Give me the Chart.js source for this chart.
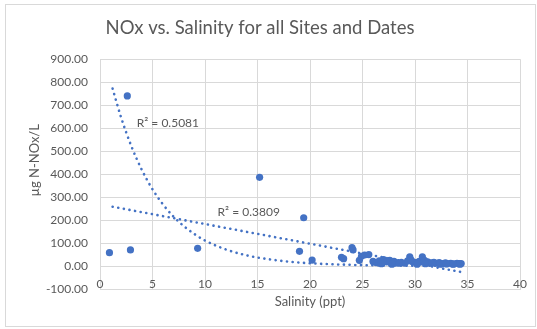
<!DOCTYPE html>
<html>
<head>
<meta charset="utf-8">
<script src="https://cdn.jsdelivr.net/npm/chart.js@4/dist/chart.umd.min.js"></script>
<style>
  body { margin: 0; background: #fff; }
</style>
</head>
<body>
<canvas id="chart" width="537" height="329"></canvas>
<script>
// Salinity (ppt) and NOx (µg N-NOx/L) samples
const salinity = [0.9, 2.6, 2.9, 9.3, 15.2, 19.4, 19.0, 20.2, 23.0, 23.2, 24.0, 24.1,
  24.7, 24.9, 25.2, 25.6, 26.0, 26.3, 26.6, 27.0, 27.3, 27.6, 28.0, 28.3, 28.7, 29.0,
  29.3, 29.5, 29.8, 30.1, 30.4, 30.7, 30.9, 31.2, 31.5, 31.8, 32.0, 32.3, 32.6, 32.9,
  33.1, 33.4, 33.7, 34.0, 34.2, 34.4, 26.8, 27.8, 28.5, 29.6, 30.2, 31.0, 31.6, 32.4,
  33.0, 33.6, 34.3];
const nox = [58, 740, 70, 77, 386, 210, 64, 26, 38, 32, 80, 70,
  25, 42, 48, 50, 20, 15, 22, 28, 18, 25, 20, 14, 16, 12,
  22, 40, 18, 15, 20, 40, 25, 18, 14, 16, 12, 15, 10, 14,
  11, 12, 9, 12, 10, 11, 10, 8, 12, 28, 8, 10, 12, 8,
  9, 8, 8];

// linear trendline end points
const linX = [1.2, 34.5];
const linY = [258, -27];

// exponential trendline, sampled along its length
const expX = [1.2, 2, 3, 4, 5, 6, 7, 8, 9, 10, 12, 14, 16, 18, 20, 24, 28, 34.5];
const expY = [772, 648, 520, 417, 334, 268, 215, 173, 139, 111, 72, 46, 30, 19, 12, 5, 2, 0.5];

// R² labels: text and data-space anchor (left edge, middle)
const r2Text = ['R\u00b2 = 0.5081', 'R\u00b2 = 0.3809'];
const r2X = [3.5, 11.2];
const r2Y = [620, 233];

const blue = '#4472C4';
const grey = '#595959';
const gridColor = '#d9d9d9';

Chart.defaults.font.family = 'Lato';
Chart.defaults.color = grey;

const toPoints = (xs, ys) => xs.map((x, i) => ({ x: x, y: ys[i] }));

// frame, x tick labels, y title and R² text
const extras = {
  id: 'extras',
  beforeDraw(chart) {
    const ctx = chart.ctx;
    ctx.save();
    ctx.strokeStyle = gridColor;
    ctx.lineWidth = 1;
    ctx.strokeRect(5.5, 4.5, 530, 322);
    ctx.restore();
  },
  afterDraw(chart) {
    const ctx = chart.ctx;
    const xs = chart.scales.x;
    const ys = chart.scales.y;
    ctx.save();
    ctx.fillStyle = grey;
    ctx.textBaseline = 'middle';

    // x tick labels sit just above the bottom gridline
    ctx.font = '12px Lato';
    ctx.textAlign = 'center';
    xs.ticks.forEach((t) => {
      ctx.fillText(String(t.value), xs.getPixelForValue(t.value), chart.chartArea.bottom - 5);
    });

    ctx.textAlign = 'left';
    for (let i = 0; i < r2Text.length; i++) {
      ctx.fillText(r2Text[i], xs.getPixelForValue(r2X[i]), ys.getPixelForValue(r2Y[i]));
    }

    // vertical axis title
    ctx.font = '13px Lato';
    ctx.textAlign = 'center';
    ctx.translate(35, ys.getPixelForValue(460));
    ctx.rotate(-Math.PI / 2);
    ctx.fillText('\u00b5g N-NOx/L', 0, 0);
    ctx.restore();
  }
};

let chart = new Chart(document.getElementById('chart'), {
  type: 'scatter',
  data: {
    datasets: [
      {
        label: 'NOx',
        data: toPoints(salinity, nox),
        backgroundColor: blue,
        borderColor: blue,
        pointRadius: 3.6,
        pointHoverRadius: 3.6,
        borderWidth: 0,
      },
      {
        label: 'Linear',
        data: toPoints(linX, linY),
        showLine: true,
        pointRadius: 0,
        borderColor: blue,
        borderWidth: 2.6,
        borderDash: [0.1, 5.6],
        borderCapStyle: 'round',
      },
      {
        label: 'Exponential',
        data: toPoints(expX, expY),
        showLine: true,
        pointRadius: 0,
        borderColor: blue,
        borderWidth: 2.6,
        borderDash: [0.1, 5.6],
        borderCapStyle: 'round',
        cubicInterpolationMode: 'monotone',
      },
    ],
  },
  options: {
    responsive: false,
    animation: false,
    layout: { padding: { left: 0, right: 17, top: 10, bottom: 0 } },
    plugins: {
      legend: { display: false },
      tooltip: { enabled: false },
      title: {
        display: true,
        text: 'NOx vs. Salinity for all Sites and Dates',
        color: grey,
        font: { size: 18.5, weight: 'normal' },
        padding: { top: 7, bottom: 20 },
      },
    },
    scales: {
      x: {
        type: 'linear',
        min: 0,
        max: 40,
        ticks: { stepSize: 5, display: false },
        grid: { color: gridColor, drawTicks: false },
        border: { color: gridColor },
        title: {
          display: true,
          text: 'Salinity (ppt)',
          color: grey,
          font: { size: 13 },
          padding: { top: 0, bottom: 19 },
        },
        afterFit: (scale) => { scale.height = 40; },
      },
      y: {
        type: 'linear',
        min: -100,
        max: 900,
        ticks: {
          stepSize: 100,
          padding: 12,
          font: { size: 12 },
          color: grey,
          callback: (v) => v.toFixed(2),
        },
        grid: { color: gridColor, drawTicks: false },
        border: { color: gridColor },
        afterFit: (scale) => { scale.width = 100; },
      },
    },
  },
  plugins: [extras],
});
</script>
</body>
</html>
